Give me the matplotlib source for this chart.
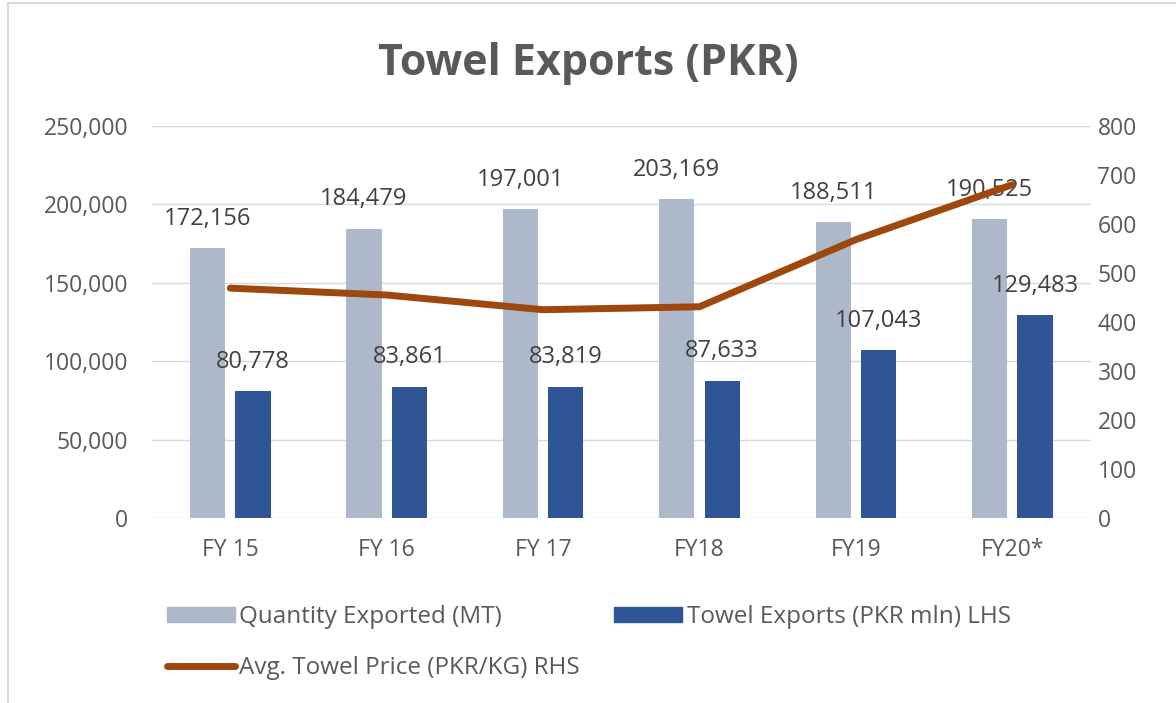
import numpy as np
import matplotlib.pyplot as plt
from matplotlib.patches import Rectangle, Patch
from matplotlib.lines import Line2D
from matplotlib.ticker import FuncFormatter

plt.rcParams['font.family'] = ['Open Sans', 'DejaVu Sans']

# data
years = ['FY 15', 'FY 16', 'FY 17', 'FY18', 'FY19', 'FY20*']
quantity_mt = [172156, 184479, 197001, 203169, 188511, 190525]
exports_pkr_mln = [80778, 83861, 83819, 87633, 107043, 129483]
avg_price = [469, 455, 425, 431, 568, 680]

gray_col = '#adb9ca'
blue_col = '#2f5597'
line_col = '#9e480e'
txt_col = '#595959'
lab_col = '#404040'

fig = plt.figure(figsize=(11.76, 7.03), dpi=100)
ax = fig.add_axes([0.1293, 0.263, 0.798, 0.558])
ax2 = ax.twinx()

x = np.arange(len(years))
w = 0.225
off = 0.145
ax.bar(x - off, quantity_mt, w, color=gray_col, zorder=2)
ax.bar(x + off, exports_pkr_mln, w, color=blue_col, zorder=2)

for xi, v in zip(x, quantity_mt):
    ax.annotate(f'{v:,}', (xi - off, v), xytext=(0, 21), textcoords='offset points',
                ha='center', va='center', fontsize=17, color=lab_col)
for xi, v in zip(x, exports_pkr_mln):
    ax.annotate(f'{v:,}', (xi + off, v), xytext=(0, 21), textcoords='offset points',
                ha='center', va='center', fontsize=17, color=lab_col)

ax2.plot(x, avg_price, color=line_col, lw=5, solid_capstyle='round', zorder=3)

ax.set_xlim(-0.5, len(years) - 0.5)
ax.set_ylim(0, 250000)
ax.set_yticks(np.arange(0, 250001, 50000))
ax.yaxis.set_major_formatter(FuncFormatter(lambda v, p: f'{int(v):,}'))
ax2.set_ylim(0, 800)
ax2.set_yticks(np.arange(0, 801, 100))

ax.set_xticks(x)
ax.set_xticklabels(years)
ax.grid(axis='y', color='#d9d9d9', lw=1, zorder=0)
ax.set_axisbelow(True)

for a in (ax, ax2):
    for s in a.spines.values():
        s.set_visible(False)
    a.tick_params(length=0, labelsize=16.5, colors=txt_col)
ax.tick_params(axis='y', pad=17)
ax.tick_params(axis='x', pad=14)
ax2.tick_params(axis='y', pad=5)

fig.text(0.5, 0.909, 'Towel Exports (PKR)', ha='center', va='center',
         fontsize=31, fontweight='bold', color=txt_col)

handles = [Patch(color=gray_col), Line2D([], [], color=line_col, lw=5, solid_capstyle='round'),
           Patch(color=blue_col)]
labels = ['Quantity Exported (MT)', 'Avg. Towel Price (PKR/KG) RHS', 'Towel Exports (PKR mln) LHS']
fig.legend(handles, labels, ncol=2, loc='upper left', bbox_to_anchor=(0.123, 0.170),
           frameon=False, fontsize=17.5, labelcolor=txt_col, handlelength=2.8,
           handleheight=0.55, handletextpad=0.2, columnspacing=1.4, labelspacing=1.1)

fig.patches.append(Rectangle((0.007, -0.01), 1.2, 1.006, transform=fig.transFigure,
                             fill=False, edgecolor='#d9d9d9', lw=1.5))

fig.savefig('out.png', dpi=100)
